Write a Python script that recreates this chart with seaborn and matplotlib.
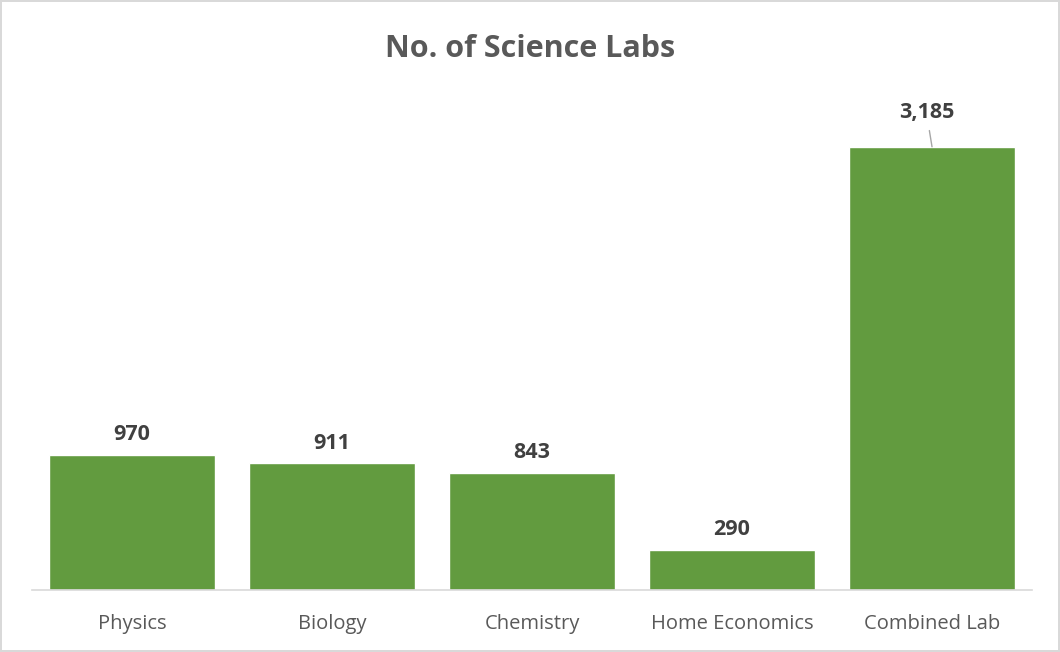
import matplotlib.pyplot as plt
import numpy as np
import pandas as pd
import seaborn as sns

categories = ["Physics", "Biology", "Chemistry", "Home Economics", "Combined Lab"]
labs = [970, 911, 843, 290, 3185]

sns.set_style("white")
plt.rcParams['font.family'] = ['Open Sans', 'DejaVu Sans']

df = pd.DataFrame({"Category": categories, "Labs": labs})

fig = plt.figure(figsize=(10.6, 6.52), dpi=100)
fig.patch.set_edgecolor('#D9D9D9')
fig.patch.set_linewidth(1.5)
ax = fig.add_axes([0.0302, 0.0951, 0.9434, 0.747])

sns.barplot(ax=ax, data=df, x="Category", y="Labs", color='#629B3F',
            saturation=1, width=0.83)

ax.set_xlim(-0.5, 4.5)
ax.set_ylim(0, 3500)
ax.set_xlabel(None)
ax.set_ylabel(None)
ax.set_yticks([])
for s in ['top', 'left', 'right']:
    ax.spines[s].set_visible(False)
ax.spines['bottom'].set_color('#D9D9D9')
ax.spines['bottom'].set_linewidth(1.2)
ax.tick_params(axis='x', length=0, pad=17, labelsize=14.5, labelcolor='#595959')

for i, v in enumerate(labs):
    if i == len(labs) - 1:
        ax.annotate(f"{v:,}", xy=(i, v), xytext=(-4, 17), textcoords='offset points',
                    ha='center', va='bottom', fontsize=15.5, fontweight='bold', color='#404040',
                    arrowprops=dict(arrowstyle='-', color='#A6A6A6', lw=1, shrinkA=3, shrinkB=0))
    else:
        ax.annotate(f"{v:,}", xy=(i, v), xytext=(0, 7), textcoords='offset points',
                    ha='center', va='bottom', fontsize=15.5, fontweight='bold', color='#404040')

fig.text(0.5, 0.925, "No. of Science Labs", ha='center', va='center',
         fontsize=22, fontweight='bold', color='#595959')

fig.savefig("out.png", dpi=100, edgecolor=fig.get_edgecolor())
